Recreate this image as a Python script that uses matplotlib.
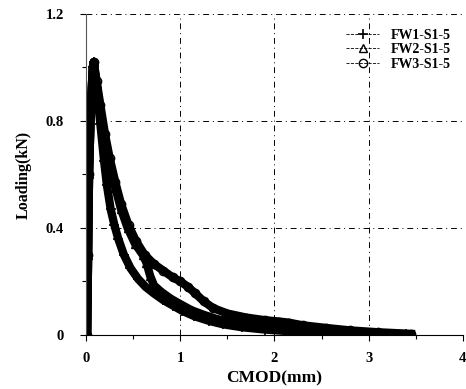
import numpy as np
import matplotlib.pyplot as plt

plt.rcParams['font.family'] = ['Liberation Serif', 'DejaVu Serif']
plt.rcParams['font.weight'] = 'bold'

# CMOD (mm) and load (kN)
fw1_x = [0.01, 0.02, 0.03, 0.05, 0.07, 0.08, 0.11, 0.15, 0.19, 0.22, 0.26, 0.30, 0.34,
         0.40, 0.47, 0.55, 0.63, 0.72, 0.82, 0.92, 1.02, 1.15, 1.30, 1.45, 1.65,
         1.90, 2.20, 2.50, 2.80, 3.10, 3.40]
fw1_y = [0.0, 0.30, 0.60, 0.86, 1.00, 1.02, 0.92, 0.79, 0.65, 0.56, 0.47, 0.41, 0.36,
         0.30, 0.25, 0.21, 0.18, 0.155, 0.13, 0.11, 0.09, 0.070, 0.053, 0.040, 0.029,
         0.020, 0.013, 0.009, 0.006, 0.004, 0.002]

fw2_x = [0.01, 0.02, 0.03, 0.05, 0.07, 0.08, 0.11, 0.15, 0.20, 0.25, 0.31, 0.37,
         0.44, 0.52, 0.60, 0.64, 0.68, 0.72, 0.80, 0.90, 1.00, 1.12, 1.25, 1.40,
         1.60, 1.85, 2.10, 2.40, 2.70, 3.00, 3.30]
fw2_y = [0.0, 0.30, 0.60, 0.86, 1.00, 1.02, 0.94, 0.84, 0.73, 0.64, 0.55, 0.47,
         0.40, 0.34, 0.30, 0.27, 0.22, 0.185, 0.16, 0.135, 0.115, 0.092, 0.075, 0.058,
         0.045, 0.035, 0.027, 0.019, 0.012, 0.007, 0.004]

fw3_x = [0.01, 0.02, 0.03, 0.05, 0.07, 0.08, 0.11, 0.15, 0.20, 0.25, 0.31, 0.37,
         0.45, 0.53, 0.62, 0.72, 0.82, 0.92, 1.00, 1.08, 1.16, 1.25, 1.35, 1.50,
         1.70, 1.90, 2.05, 2.15, 2.30, 2.55, 2.80, 3.10, 3.45]
fw3_y = [0.0, 0.30, 0.60, 0.86, 1.00, 1.02, 0.95, 0.86, 0.75, 0.66, 0.57, 0.49,
         0.41, 0.35, 0.30, 0.265, 0.24, 0.215, 0.20, 0.18, 0.155, 0.125, 0.100, 0.080,
         0.065, 0.055, 0.050, 0.046, 0.036, 0.026, 0.017, 0.010, 0.004]

x_ticks = [0, 1, 2, 3, 4]
y_ticks = [0, 0.4, 0.8, 1.2]
y_labels = ['0', '0.4', '0.8', '1.2']

fig = plt.figure(figsize=(4.66, 3.89), dpi=100)
ax = fig.add_axes([0.185, 0.139, 0.808, 0.825])

ax.plot(fw1_x, fw1_y, color='k', lw=6, marker='+', ms=7, mew=1.2, label='FW1-S1-5')
ax.plot(fw2_x, fw2_y, color='k', lw=6, marker='^', ms=6, mfc='none', label='FW2-S1-5')
ax.plot(fw3_x, fw3_y, color='k', lw=6, marker='o', ms=6, mfc='none', label='FW3-S1-5')

ax.set_xlim(0, 4)
ax.set_ylim(0, 1.2)
ax.set_xticks(x_ticks)
ax.set_yticks(y_ticks)
ax.set_yticklabels(y_labels)
ax.set_xticks([0.5, 1.5, 2.5, 3.5], minor=True)
ax.set_yticks([0.2, 0.6, 1.0], minor=True)
ax.tick_params(labelsize=10.5, direction='out', length=4, width=0.8)
ax.tick_params(axis='y', pad=12)
ax.tick_params(axis='x', pad=8)
ax.tick_params(which='minor', direction='out', length=3, width=0.8)
ax.grid(True, which='major', color='k', linestyle=(0, (6, 4, 1, 4)), linewidth=0.7)

for s in ['top', 'right']:
    ax.spines[s].set_visible(False)
ax.spines['left'].set_color('#555555')
ax.spines['bottom'].set_linewidth(0.8)

ax.set_xlabel('CMOD(mm)', fontsize=12.5, fontweight='bold', labelpad=4)
ax.set_ylabel('Loading(kN)', fontsize=11.5, fontweight='bold', labelpad=10)

leg = ax.legend(loc='upper right', bbox_to_anchor=(0.99, 0.98), frameon=False, fontsize=10,
                handlelength=2.4, handletextpad=0.8, labelspacing=0.1, borderaxespad=0.2)
for line in leg.get_lines():
    line.set_linewidth(0.6)
    line.set_linestyle('--')

fig.savefig('out.png', dpi=100)
